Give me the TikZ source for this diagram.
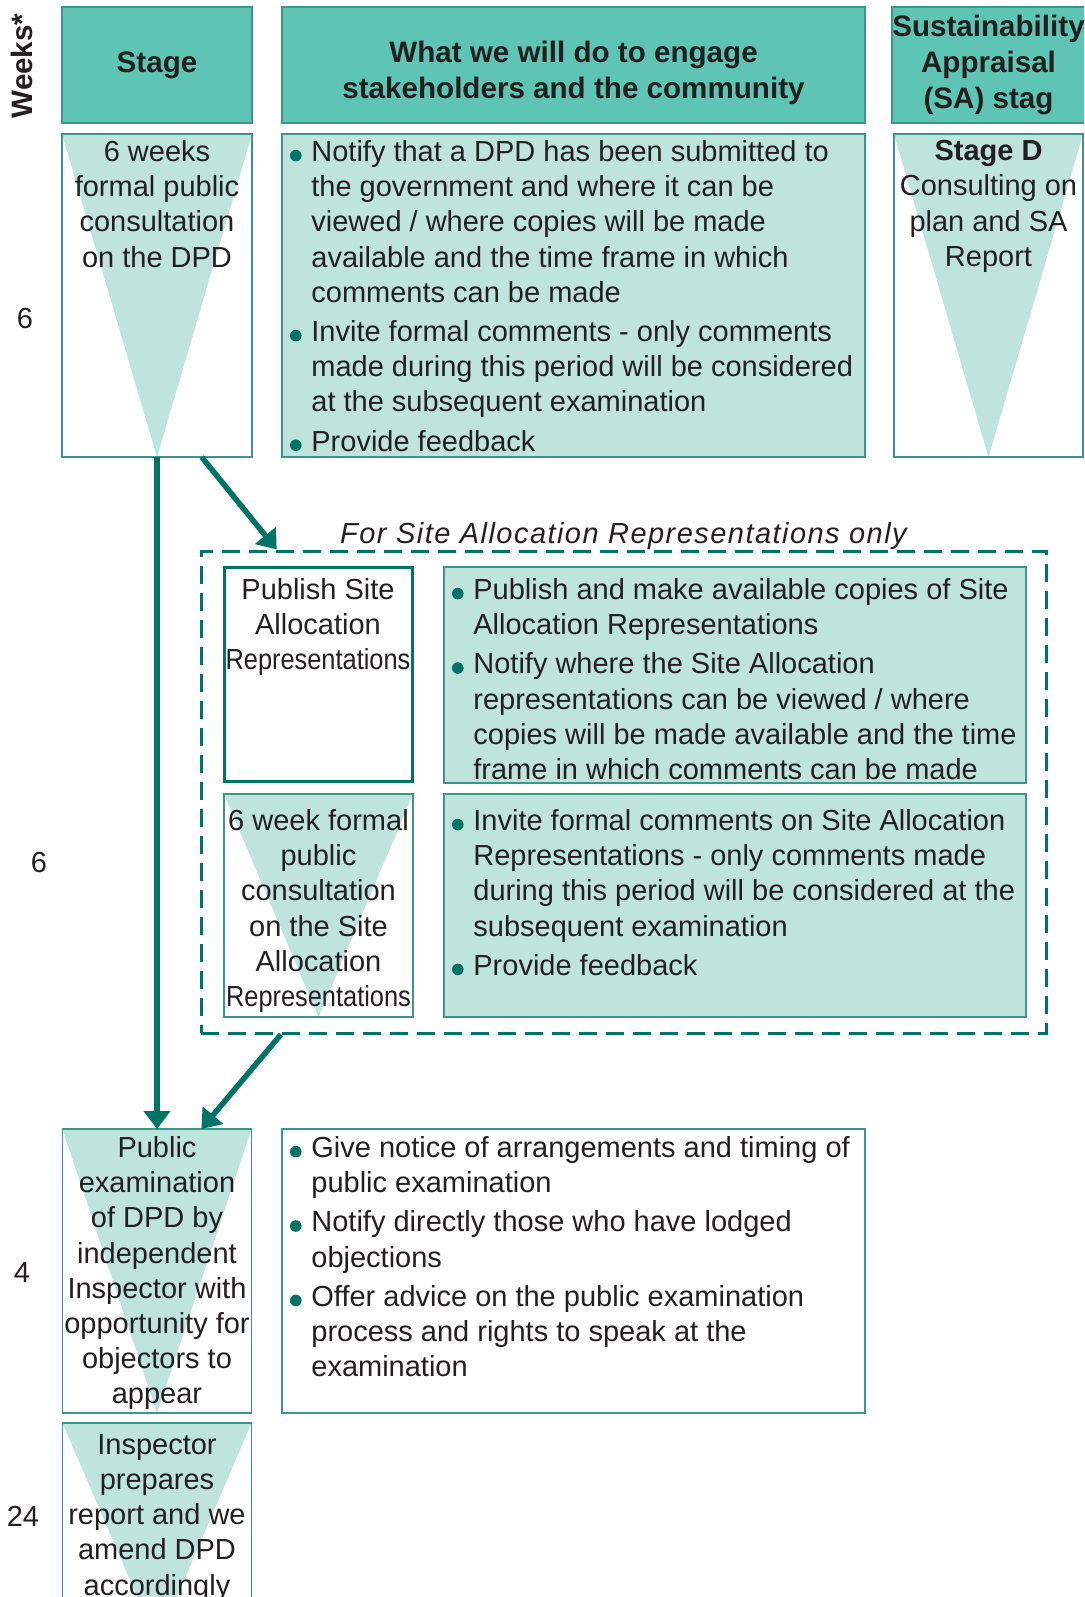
\documentclass[tikz,border=0pt]{standalone}
\usepackage{fontspec}
\setmainfont{Liberation Sans}
\usepackage{graphicx}
\usetikzlibrary{positioning,calc,arrows.meta}
\definecolor{hdr}{RGB}{94,196,180}
\definecolor{pale}{RGB}{190,228,220}
\definecolor{edge}{RGB}{60,150,136}
\definecolor{deep}{RGB}{0,115,103}
\definecolor{ink}{RGB}{35,31,32}
\newcommand{\bul}{\makebox[11.5pt][l]{\tikz[baseline=0pt]{\path (0pt,0pt); \fill[deep] (3.7pt,2.9pt) circle (2.9pt);}}}
\newcommand{\ind}{\hspace*{11.5pt}}
\newcommand{\squeeze}[1]{\scalebox{0.875}[1]{#1}}
\begin{document}
\begin{tikzpicture}[x=0.5pt,y=-0.5pt,
  txt/.style={font=\fontsize{14.5}{17.6}\selectfont, inner sep=0pt, text=ink},
  headtxt/.style={align=center, inner sep=0pt, text=ink, font=\bfseries\fontsize{14.8}{17.8}\selectfont},
  head/.style={draw=edge, fill=hdr, line width=0.8pt, inner sep=0pt, outer sep=0pt,
    minimum height=58pt, headtxt},
  box/.style={draw=edge, line width=0.7pt, inner sep=0pt, outer sep=0pt},
  stagebox/.style={box, fill=white, path picture={
    \fill[pale] (path picture bounding box.north west) -- (path picture bounding box.north east)
      -- (path picture bounding box.south) -- cycle;}},
  listbox/.style={box, fill=pale},
  flow/.style={draw=deep, line width=2.75pt, -{Triangle[length=9pt,width=13pt]}}]
  \useasboundingbox (0,0) rectangle (1084,1597);
  \clip (0,0) rectangle (1084,1597);
  % Column headings
  \node[rotate=90, headtxt] (weeks) at (22,66) {Weeks*};
  \node[head, minimum width=95pt] (hStage) at (157,65) {Stage};
  \node[head, minimum width=291.5pt] (hWhat) at (573.5,65) {};
  \node[headtxt] (tWhat) at ([yshift=-4pt]hWhat.center) {What we will do to engage\\stakeholders and the community};
  \node[head, minimum width=94.5pt] (hSA) at (988.5,65) {Sustainability\\Appraisal\\(SA) stag};
  % Formal consultation on the DPD
  \node[stagebox, minimum width=95pt, minimum height=161.5pt] (sDPD) at (157,295.5) {};
  \node[txt, align=center, below=3pt of sDPD.north] (tDPD) {6 weeks\\formal public\\consultation\\on the DPD};
  \node[listbox, minimum width=291.5pt, minimum height=161.5pt] (bDPD) at (573.5,295.5) {};
  \node[txt, align=left, below right=3pt and 3pt of bDPD.north west] (lDPD) {%
    \bul Notify that a DPD has been submitted to\\
    \ind the government and where it can be\\
    \ind viewed / where copies will be made\\
    \ind available and the time frame in which\\
    \ind comments can be made\\[2pt]
    \bul Invite formal comments - only comments\\
    \ind made during this period will be considered\\
    \ind at the subsequent examination\\[2pt]
    \bul Provide feedback};
  \node[stagebox, minimum width=94.5pt, minimum height=161.5pt] (sSA) at (988.5,295.5) {};
  \node[txt, align=center, below=3pt of sSA.north] (tSA) {\textbf{Stage D}\\Consulting on\\plan and SA\\Report};
  \node[txt] (w1) at (25,319) {6};
  % Site Allocation Representations
  \node[draw=deep, line width=1.5pt, dash pattern=on 9pt off 4.5pt, minimum width=422.5pt,
    minimum height=241pt, inner sep=0pt] (alloc) at (623.5,792) {};
  \node[txt, anchor=base, font=\itshape\fontsize{14.5}{17.6}\selectfont\addfontfeature{LetterSpace=5}]
    (note) at ([yshift=3pt]alloc.north) {For Site Allocation Representations only};
  \node[box, draw=deep, line width=1.5pt, fill=white, minimum width=94pt, minimum height=107pt] (sPub) at (318,674) {};
  \node[txt, align=center, below=5.5pt of sPub.north] (tPub) {Publish Site\\Allocation\\\squeeze{Representations}};
  \node[listbox, minimum width=291pt, minimum height=108pt] (bPub) at (735,675) {};
  \node[txt, align=left, below right=5.5pt and 3pt of bPub.north west] (lPub) {%
    \bul Publish and make available copies of Site\\
    \ind Allocation Representations\\[2pt]
    \bul Notify where the Site Allocation\\
    \ind representations can be viewed / where\\
    \ind copies will be made available and the time\\
    \ind frame in which comments can be made};
  \node[stagebox, minimum width=94.5pt, minimum height=111.5pt] (sCons) at (318.5,905.5) {};
  \node[txt, align=center, below=7.5pt of sCons.north] (tCons) {6 week formal\\public\\consultation\\on the Site\\Allocation\\\squeeze{Representations}};
  \node[listbox, minimum width=291pt, minimum height=111.5pt] (bCons) at (735,905.5) {};
  \node[txt, align=left, below right=7.5pt and 3pt of bCons.north west] (lCons) {%
    \bul Invite formal comments on Site Allocation\\
    \ind Representations - only comments made\\
    \ind during this period will be considered at the\\
    \ind subsequent examination\\[2pt]
    \bul Provide feedback};
  \node[txt] (w2) at (39,863) {6};
  % Public examination
  \node[stagebox, minimum width=94.5pt, minimum height=142pt] (sExam) at (157,1271) {};
  \node[txt, align=center, below=3.5pt of sExam.north] (tExam) {Public\\examination\\of DPD by\\independent\\Inspector with\\opportunity for\\objectors to\\appear};
  \node[box, fill=white, minimum width=291.5pt, minimum height=142pt] (bExam) at (573.5,1271) {};
  \node[txt, align=left, below right=3.5pt and 3pt of bExam.north west] (lExam) {%
    \bul Give notice of arrangements and timing of\\
    \ind public examination\\[2pt]
    \bul Notify directly those who have lodged\\
    \ind objections\\[2pt]
    \bul Offer advice on the public examination\\
    \ind process and rights to speak at the\\
    \ind examination};
  \node[txt] (w3) at (22,1273) {4};
  % Inspector's report
  \node[stagebox, minimum width=94.5pt, minimum height=110pt] (sInsp) at (157,1533) {};
  \node[txt, align=center, below=5.5pt of sInsp.north] (tInsp) {Inspector\\prepares\\report and we\\amend DPD\\accordingly};
  \node[txt] (w4) at (23,1516) {24};
  % Arrows
  \draw[flow] (sDPD.south) -- (sExam.north);
  \draw[flow] ($(sDPD.south)!0.47!(sDPD.south east)$) -- ($(alloc.north west)!0.091!(alloc.north east)$);
  \draw[flow] ($(alloc.south west)!0.096!(alloc.south east)$) -- ($(sExam.north)!0.47!(sExam.north east)$);
\end{tikzpicture}
\end{document}
